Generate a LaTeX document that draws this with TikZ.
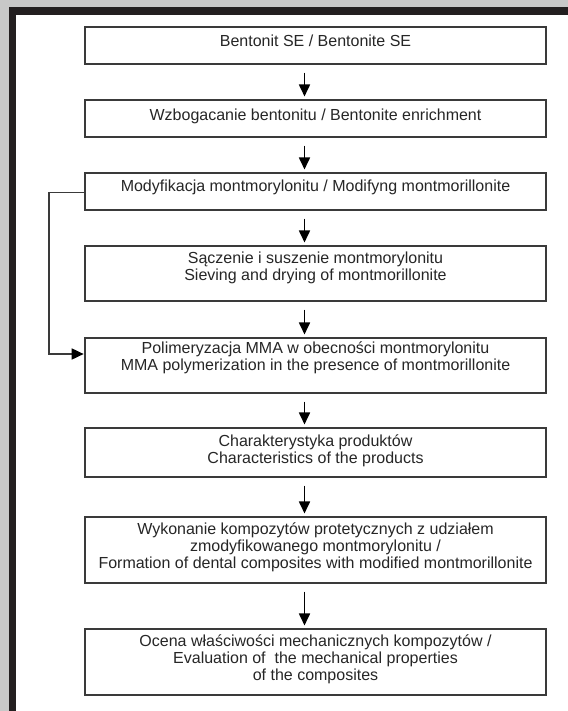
\documentclass[tikz,border=0pt]{standalone}
\usepackage{fontspec}
\setmainfont{Liberation Sans}
\usetikzlibrary{arrows.meta}
\newlength\px
\setlength\px{0.75pt}
\definecolor{framegray}{HTML}{C8C8C8}
\definecolor{framedark}{HTML}{231F20}
\definecolor{linecol}{HTML}{3A3A3A}
\definecolor{txtcol}{HTML}{262626}
% #1 box height (px), #2 first baseline offset (px), #3 text
\newcommand{\bt}[3]{\parbox[c][#1\px][t]{461\px}{\centering\fontsize{12pt}{13.1pt}\selectfont\rule{0pt}{#2\px}#3}}
\tikzset{
  box/.style={draw=linecol, line width=0.8pt, inner sep=0pt, text=txtcol, fill=white},
  flow/.style={draw=black, line width=1.3pt, -{Triangle[length=9pt,width=8.25pt]}},
  back/.style={draw=linecol, line width=1.05pt}
}
\begin{document}
\begin{tikzpicture}[x=0.75pt,y=-0.75pt]
\useasboundingbox (0,0) rectangle (568,711);
\fill[white] (0,0) rectangle (568,711);
% frame
\fill[framegray] (0,0) rectangle (568,7);
\fill[framegray] (0,0) rectangle (9,711);
\fill[framedark] (9,7) rectangle (568,15);
\fill[framedark] (9,7) rectangle (16,711);
% boxes
\node[box] (b1) at (315.5,45.5) {\bt{37}{19}{Bentonit SE / Bentonite SE}};
\node[box] (b2) at (315.5,118.5) {\bt{37}{20.5}{Wzbogacanie bentonitu / Bentonite enrichment}};
\node[box] (b3) at (315.5,191.5) {\bt{37}{18.5}{Modyfikacja montmorylonitu / Modifyng montmorillonite}};
\node[box] (b4) at (315.5,273.5) {\bt{55}{17}{Sączenie i suszenie montmorylonitu\\Sieving and drying of montmorillonite}};
\node[box] (b5) at (315.5,365.5) {\bt{55}{15}{Polimeryzacja MMA w obecności montmorylonitu\\MMA polymerization in the presence of montmorillonite}};
\node[box] (b6) at (315.5,452.5) {\bt{49}{18.5}{Charakterystyka produktów\\Characteristics of the products}};
\node[box] (b7) at (315.5,550) {\bt{66}{17}{Wykonanie kompozytów protetycznych z udziałem\\zmodyfikowanego montmorylonitu /\\Formation of dental composites with modified montmorillonite}};
\node[box] (b8) at (315.5,662) {\bt{66}{17}{Ocena właściwości mechanicznych kompozytów /\\Evaluation of\ \ the mechanical properties\\of the composites}};
% arrows
\foreach \a/\b in {b1/b2,b2/b3,b3/b4,b4/b5,b5/b6,b6/b7,b7/b8}{
  \draw[flow] ([xshift=-8.25pt,yshift=-6pt]\a.south) -- ([xshift=-8.25pt,yshift=2.25pt]\b.north);
}
% feedback
\coordinate (c1) at (49,192.5);
\coordinate (c2) at (49,354);
\draw[back] (b3.west |- c1) -- (c1) -- (c2) -- ([xshift=-8pt]b5.west |- c2);
\draw[flow] ([xshift=-9pt]b5.west |- c2) -- ([xshift=-0.6pt]b5.west |- c2);
\end{tikzpicture}
\end{document}
